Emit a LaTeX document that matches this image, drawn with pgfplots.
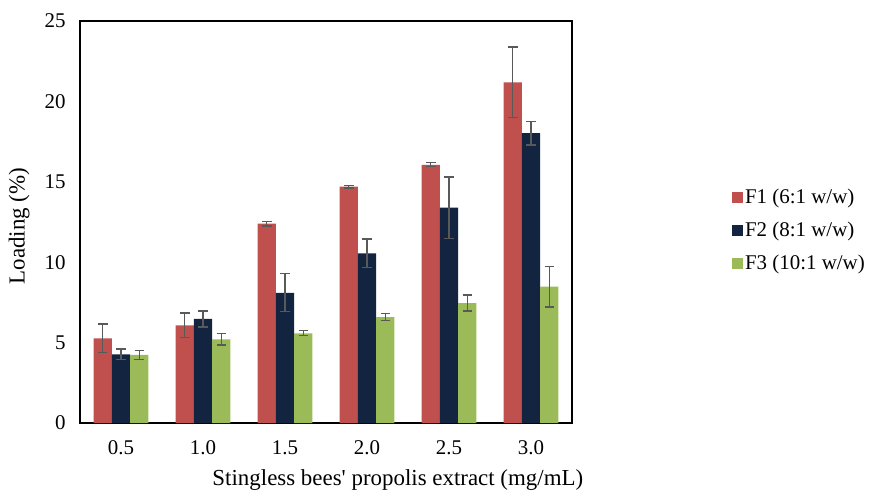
\documentclass[border=0pt]{standalone}
\usepackage{pgfplots}
\pgfplotsset{compat=1.18}
\usepackage{fontspec}
\setmainfont{Liberation Serif}
\definecolor{cF1}{HTML}{C0504D}
\definecolor{cF2}{HTML}{12243F}
\definecolor{cF3}{HTML}{9BBB59}
\definecolor{cErr}{HTML}{595959}
\begin{document}
\begin{tikzpicture}
\useasboundingbox (-80bp,-70bp) rectangle (795bp,423bp);
\begin{axis}[
  scale only axis,
  width=492bp, height=402bp,
  xmin=-0.5, xmax=5.5, ymin=0, ymax=25,
  ybar=0pt, bar width=18.2bp,
  xtick={0,1,2,3,4,5},
  xticklabels={0.5,1.0,1.5,2.0,2.5,3.0},
  ytick={0,5,10,15,20,25},
  major tick length=0pt,
  axis line style={line width=1.5bp, black},
  /pgf/number format/assume math mode=true,
  tick label style={font=\fontsize{21}{25}\selectfont},
  yticklabel style={xshift=-11bp},
  xticklabel style={yshift=-14bp},
  label style={font=\fontsize{23}{27}\selectfont},
  xlabel={Stingless bees\textquotesingle\ propolis extract (mg/mL)},
  ylabel={Loading (\%)},
  xlabel style={at={(axis description cs:0.646,0)}, anchor=north, yshift=-43bp},
  ylabel style={at={(axis description cs:0,0.49)}, anchor=south, yshift=47bp},
  legend style={draw=none, at={(1.325,0.48)}, anchor=west,
    font=\fontsize{21}{25}\selectfont, row sep=13bp, inner sep=0pt},
  legend cell align=left,
  legend image code/.code={\fill[#1] (0bp,-5.5bp) rectangle (11bp,5.5bp);},
  error bars/y dir=both, error bars/y explicit,
  error bars/error bar style={cErr, line width=1.3bp},
  error bars/error mark options={cErr, line width=1.3bp, mark size=4.7bp, rotate=90},
]
\addplot[fill=cF1, draw=none] table[x=x, y=y, y error=e] {
x y e
0 5.27 0.89
1 6.07 0.77
2 12.40 0.15
3 14.70 0.08
4 16.06 0.12
5 21.19 2.19
};
\addplot[fill=cF2, draw=none] table[x=x, y=y, y error=e] {
x y e
0 4.27 0.33
1 6.47 0.50
2 8.10 1.18
3 10.55 0.89
4 13.39 1.91
5 18.02 0.74
};
\addplot[fill=cF3, draw=none] table[x=x, y=y, y error=e] {
x y e
0 4.23 0.30
1 5.20 0.35
2 5.58 0.16
3 6.59 0.23
4 7.46 0.50
5 8.48 1.26
};
\legend{F1 (6:1 w/w), F2 (8:1 w/w), F3 (10:1 w/w)}
\end{axis}
\end{tikzpicture}
\end{document}
